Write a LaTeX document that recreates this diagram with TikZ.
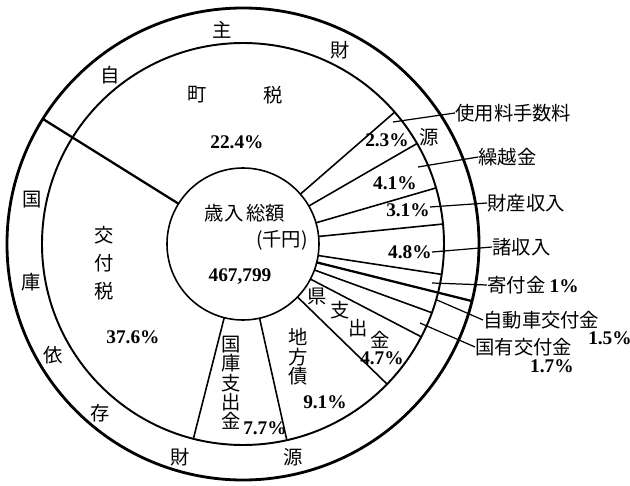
\documentclass[tikz,border=0pt]{standalone}
\usepackage{fontspec}
\setmainfont{Liberation Serif}
\newfontfamily\jp{Noto Sans CJK JP}
\usetikzlibrary{calc, positioning}

\begin{document}
\begin{tikzpicture}[font=\fontsize{11}{13}\selectfont]
      % Styles for rings, borders and labels
      \tikzset{outer/.style={draw=black, line width=1.6pt}}
      \tikzset{middle/.style={draw=black, line width=1.1pt}}
      \tikzset{border/.style={draw=black, line width=0.9pt}}
      \tikzset{split/.style={draw=black, line width=1.3pt}}
      \tikzset{leader/.style={draw=black, line width=0.7pt}}
      \tikzset{jpc/.style={font=\jp\fontsize{11}{11}\selectfont, inner sep=0pt}}
      \tikzset{pct/.style={font=\fontsize{11}{13}\selectfont\bfseries, inner sep=0pt}}

      \useasboundingbox (-4.86,-4.84) rectangle (7.74,4.88);

      % Rings
      \draw[outer]  (0,0) circle (4.72);
      \draw[middle] (0,0) circle (4.02);
      \draw[border] (0,0) circle (1.52);

      % Sector borders
      \draw[border] (41:1.52)     -- (41:4.02);
      \draw[border] (30:1.52)     -- (30:4.02);
      \draw[border] (16.2:1.52)   -- (16.2:4.02);
      \draw[border] (5.7:1.52)    -- (5.7:4.02);
      \draw[border] (-8.7:1.52)   -- (-8.7:4.02);
      \draw[border] (-20:1.52)    -- (-20:4.02);
      \draw[border] (-27.5:1.52)  -- (-27.5:4.02);
      \draw[border] (-44.2:1.52)  -- (-44.2:4.02);
      \draw[border] (-77.4:1.52)  -- (-77.4:4.02);
      \draw[border] (-104.3:1.52) -- (-104.3:4.02);
      % own / dependent split
      \draw[split] (148:1.52) -- (148:4.72);
      \draw[split] (-14:1.52) -- (-14:4.72);

      % Outer ring: 自主財源
      \node[jpc] (own1) at (128.2:4.3) {自};
      \node[jpc] (own2) at (95.6:4.3)  {主};
      \node[jpc] (own3) at (63.4:4.33) {財};
      \node[jpc] (own4) at (29.8:4.3)  {源};
      % Outer ring: 国庫依存財源
      \node[jpc] (dep1) at (168.2:4.3)  {国};
      \node[jpc] (dep2) at (190.2:4.3)  {庫};
      \node[jpc] (dep3) at (210.3:4.4)  {依};
      \node[jpc] (dep4) at (229.8:4.42) {存};
      \node[jpc] (dep5) at (253.5:4.44) {財};
      \node[jpc] (dep6) at (283.2:4.38) {源};

      % Centre
      \node[jpc] (total) at (0.04,0.62) {歳入\,総額};
      \node[jpc] (unit)  at (0.78,0.08) {(千円)};
      \node[pct] (sum)   at (-0.06,-0.66) {467,799};

      % Large sectors
      \node[jpc] (machi) at (-0.92,2.98) {町};
      \node[jpc] (zei)   at (0.6,2.98)   {税};
      \node[pct] (p-machi) at (-0.12,2.04) {22.4\%};

      \node[jpc, align=center, font=\jp\fontsize{11}{16}\selectfont] (kofu) at (-2.78,-0.38) {交\\付\\税};
      \node[pct] (p-kofu) at (-2.2,-1.86) {37.6\%};

      \node[jpc, align=center] (kokko) at (-0.24,-2.78) {国\\庫\\支\\出\\金};
      \node[pct] (p-kokko) at (0.44,-3.68) {7.7\%};

      \node[jpc, align=center] (chiho) at (1.1,-2.26) {地\\方\\債};
      \node[pct] (p-chiho) at (1.64,-3.16) {9.1\%};

      \node[jpc] (ken1) at (1.48,-1.06) {県};
      \node[jpc] (ken2) at (1.94,-1.32) {支};
      \node[jpc] (ken3) at (2.3,-1.68)  {出};
      \node[jpc] (ken4) at (2.74,-1.92) {金};
      \node[pct] (p-ken) at (2.78,-2.28) {4.7\%};

      % Small sectors
      \node[pct] (p-shiyo)  at (2.88,2.08)  {2.3\%};
      \node[pct] (p-kurik)  at (3.04,1.22)  {4.1\%};
      \node[pct] (p-zaisan) at (3.3,0.68)   {3.1\%};
      \node[pct] (p-sho)    at (3.34,-0.16) {4.8\%};

      % Labels outside
      \node[jpc, anchor=west] (shiyo)  at (4.24,2.62)  {使用料手数料};
      \node[jpc, anchor=west] (kurik)  at (4.7,1.74)   {繰越金};
      \node[jpc, anchor=west] (zaisan) at (4.88,0.82)  {財産収入};
      \node[jpc, anchor=west] (sho)    at (4.98,-0.06) {諸収入};
      \node[jpc, anchor=west] (kifu)   at (4.88,-0.82) {寄付金\ \textbf{\rmfamily 1\%}};
      \node[jpc, anchor=west] (jidosha) at (4.8,-1.52) {自動車交付金};
      \node[pct] (p-jidosha) at (7.34,-1.88) {1.5\%};
      \node[jpc, anchor=west] (kokuyu) at (4.64,-2.06) {国有交付金};
      \node[pct] (p-kokuyu) at (6.18,-2.44) {1.7\%};

      % Leaders
      \coordinate (l-shiyo)   at (3.0,2.44);
      \coordinate (l-kurik)   at (3.5,1.54);
      \coordinate (l-zaisan)  at (3.74,0.74);
      \coordinate (l-kifu)    at (3.78,-0.78);
      \coordinate (l-jidosha) at (3.88,-1.12);
      \coordinate (l-kokuyu)  at (3.54,-1.58);
      \draw[leader] (l-shiyo)   -- (shiyo.west);
      \draw[leader] (l-kurik)   -- (kurik.west);
      \draw[leader] (l-zaisan)  -- (zaisan.west);
      \draw[leader] (p-sho.east) -- (sho.west);
      \draw[leader] (l-kifu)    -- (kifu.west);
      \draw[leader] (l-jidosha) -- (jidosha.west);
      \draw[leader] (l-kokuyu)  -- (kokuyu.west);
\end{tikzpicture}
\end{document}
